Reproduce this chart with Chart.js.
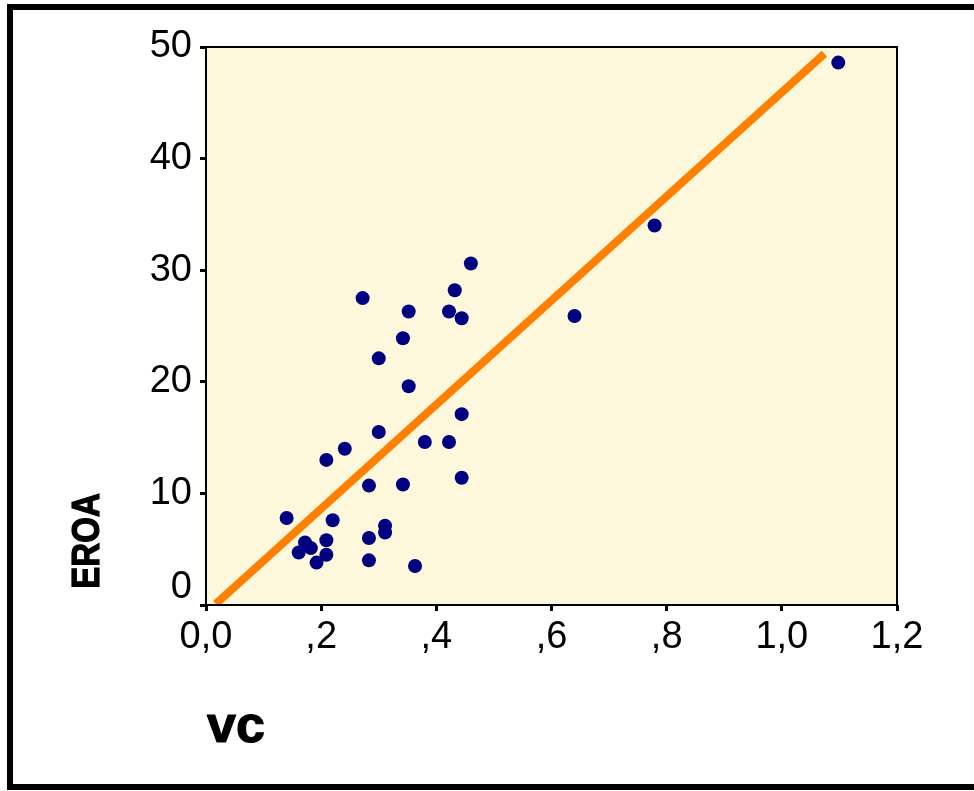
<!DOCTYPE html>
<html>
<head>
<meta charset="utf-8">
<script src="https://cdn.jsdelivr.net/npm/chart.js@4/dist/chart.umd.min.js"></script>
<style>
  html, body { margin: 0; padding: 0; background: #fff; }
  #wrap { position: relative; width: 974px; height: 791px; }
</style>
</head>
<body>
<div id="wrap"><canvas id="c" width="974" height="791"></canvas></div>
<script>
// Observations: vc against EROA
const vcValues = [0.460, 0.432, 0.272, 0.352, 0.422, 0.444, 0.342, 0.300, 0.352, 0.444,
                  0.300, 0.380, 0.422, 0.241, 0.209, 0.283, 0.342, 0.444, 0.140, 0.220,
                  0.311, 0.311, 0.283, 0.209, 0.172, 0.182, 0.161, 0.209, 0.192, 0.283,
                  0.363, 0.640, 0.779, 1.098];
const eroaValues = [30.6, 28.2, 27.5, 26.3, 26.3, 25.7, 23.9, 22.1, 19.6, 17.1,
                    15.5, 14.6, 14.6, 14.0, 13.0, 10.7, 10.8, 11.4, 7.8, 7.6,
                    7.1, 6.5, 6.0, 5.8, 5.6, 5.1, 4.7, 4.5, 3.8, 4.0,
                    3.5, 25.9, 34.0, 48.6];

// Fitted regression line, drawn between its two end points
const fitX = [0.017, 1.074];
const fitY = [0.1, 49.4];

// Axis tick labels (decimal comma, leading zero dropped)
const xTickLabels = ['0,0', ',2', ',4', ',6', ',8', '1,0', '1,2'];
const yTickLabels = [['0', ''], '10', '20', '30', '40', '50'];

const xTitle = 'vc';
const yTitle = 'EROA';

const points = vcValues.map((v, i) => ({ x: v, y: eroaValues[i] }));
const fitLine = fitX.map((v, i) => ({ x: v, y: fitY[i] }));

const framePlugin = {
  id: 'frame',
  beforeDraw(chart) {
    const ctx = chart.ctx;
    const a = chart.chartArea;
    ctx.save();
    ctx.fillStyle = '#ffffff';
    ctx.fillRect(0, 0, chart.width, chart.height);
    // outer black frame (top, left, bottom)
    ctx.fillStyle = '#000000';
    ctx.fillRect(7, 4, 967, 6);
    ctx.fillRect(7, 4, 6, 786);
    ctx.fillRect(7, 784, 967, 6);
    // plot background
    ctx.fillStyle = '#FDF8DB';
    ctx.fillRect(a.left, a.top, a.right - a.left, a.bottom - a.top);
    ctx.restore();
  },
  afterDraw(chart) {
    const ctx = chart.ctx;
    const a = chart.chartArea;
    ctx.save();
    ctx.strokeStyle = '#000000';
    ctx.lineWidth = 2;
    ctx.strokeRect(a.left, a.top, a.right - a.left, a.bottom - a.top);

    // axis titles
    ctx.fillStyle = '#000000';
    ctx.strokeStyle = '#000000';
    ctx.lineWidth = 1.2;
    ctx.font = 'bold 52px "Liberation Sans", Arial, sans-serif';
    ctx.textAlign = 'left';
    ctx.textBaseline = 'alphabetic';
    ctx.fillText(xTitle, a.left + 1, a.bottom + 137);
    ctx.strokeText(xTitle, a.left + 1, a.bottom + 137);

    ctx.translate(a.left - 117, a.bottom - 64);
    ctx.rotate(-Math.PI / 2);
    ctx.scale(0.87, 1);
    ctx.font = 'bold 38px "Liberation Sans", Arial, sans-serif';
    ctx.textAlign = 'center';
    ctx.textBaseline = 'middle';
    ctx.fillText(yTitle, 0, 0);
    ctx.strokeText(yTitle, 0, 0);
    ctx.restore();
  }
};

new Chart(document.getElementById('c'), {
  type: 'scatter',
  data: {
    datasets: [
      {
        type: 'line',
        data: fitLine,
        borderColor: '#FF7F00',
        borderWidth: 8,
        borderCapStyle: 'butt',
        pointRadius: 0,
        fill: false,
        order: 2
      },
      {
        data: points,
        backgroundColor: '#000080',
        borderWidth: 0,
        pointRadius: 7,
        order: 1
      }
    ]
  },
  options: {
    responsive: false,
    animation: false,
    events: [],
    layout: { padding: { left: 0, right: 77, top: 47, bottom: 0 } },
    plugins: { legend: { display: false }, tooltip: { enabled: false } },
    scales: {
      x: {
        type: 'linear',
        min: 0,
        max: 1.2,
        afterFit(s) { s.height = 186; },
        border: { display: false },
        grid: { drawOnChartArea: false, drawTicks: true, tickLength: 6, tickWidth: 3, color: '#000000' },
        ticks: {
          stepSize: 0.2,
          padding: 4,
          color: '#000000',
          maxRotation: 0,
          font: { family: '"Liberation Sans", Arial, sans-serif', size: 38 },
          callback: (v, i) => xTickLabels[i]
        }
      },
      y: {
        type: 'linear',
        min: 0,
        max: 50,
        afterFit(s) { s.width = 206; },
        border: { display: false },
        grid: { drawOnChartArea: false, drawTicks: true, tickLength: 6, tickWidth: 3, color: '#000000' },
        ticks: {
          stepSize: 10,
          padding: 8,
          color: '#000000',
          font: { family: '"Liberation Sans", Arial, sans-serif', size: 38, lineHeight: 0.9 },
          callback: (v, i) => yTickLabels[i]
        }
      }
    }
  },
  plugins: [framePlugin]
});
</script>
</body>
</html>
